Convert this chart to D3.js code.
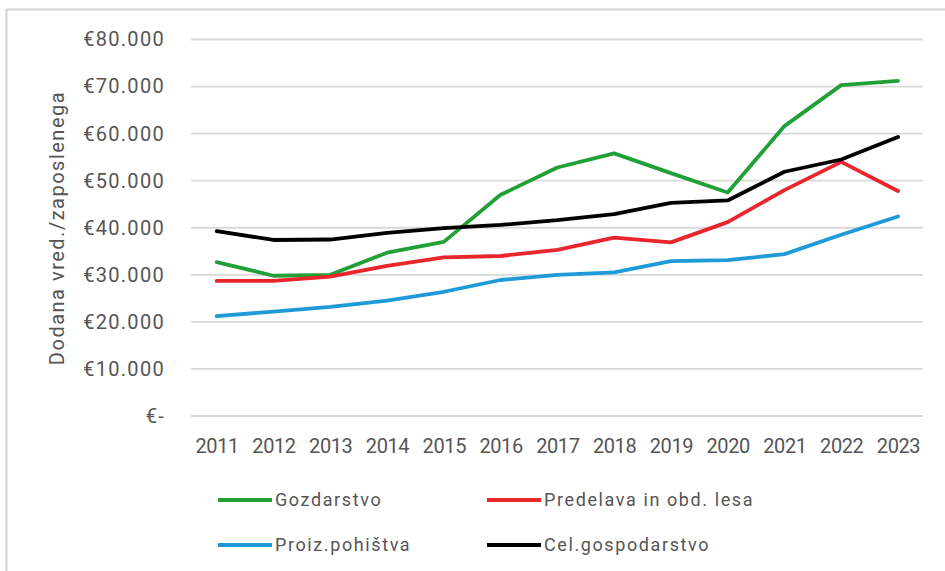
<!DOCTYPE html>
<html>
<head>
<meta charset="utf-8">
<script src="https://cdn.jsdelivr.net/npm/d3@7"></script>
<style>
  html, body { margin: 0; padding: 0; background: #fff; }
  svg { display: block; font-family: Roboto, "Noto Sans", sans-serif; }
</style>
</head>
<body>
<svg id="chart" width="945" height="571"></svg>
<script>
// Dodana vrednost na zaposlenega, 2011–2023 (EUR)
const years = [2011, 2012, 2013, 2014, 2015, 2016, 2017, 2018, 2019, 2020, 2021, 2022, 2023];
const gozdarstvo  = [32700, 29800, 30000, 34700, 37000, 47000, 52800, 55800, 51600, 47500, 61600, 70300, 71200];
const predelava   = [28700, 28700, 29600, 31900, 33700, 34000, 35300, 37900, 36900, 41200, 48000, 54000, 47800];
const pohistvo    = [21200, 22200, 23200, 24500, 26400, 28900, 30000, 30500, 32900, 33100, 34400, 38500, 42400];
const gospodarstvo = [39300, 37400, 37500, 38900, 39900, 40600, 41600, 42900, 45300, 45800, 51900, 54500, 59300];
const yTicks = [0, 10000, 20000, 30000, 40000, 50000, 60000, 70000, 80000];

const series = [
  { name: "Gozdarstvo", values: gozdarstvo, color: "#22a038" },
  { name: "Predelava in obd. lesa", values: predelava, color: "#e8262c" },
  { name: "Proiz.pohištva", values: pohistvo, color: "#1f9ad9" },
  { name: "Cel.gospodarstvo", values: gospodarstvo, color: "#000000" }
];

const svg = d3.select("#chart");
const textColor = "#555555";

// outer chart frame
svg.append("rect")
  .attr("x", 6.5).attr("y", 9.5)
  .attr("width", 960).attr("height", 600)
  .attr("fill", "#fff")
  .attr("stroke", "#d4d4d4").attr("stroke-width", 2);

const plot = { left: 191, right: 923, top: 39.5, bottom: 416 };

const x = d3.scalePoint()
  .domain(years)
  .range([216.7, 898]);

const y = d3.scaleLinear()
  .domain([0, 80000])
  .range([plot.bottom, plot.top]);

// horizontal gridlines
svg.append("g")
  .selectAll("line")
  .data(yTicks)
  .join("line")
  .attr("x1", plot.left).attr("x2", plot.right)
  .attr("y1", d => y(d)).attr("y2", d => y(d))
  .attr("stroke", "#d9d9d9").attr("stroke-width", 1.8);

// y-axis labels
const fmt = v => v === 0 ? "€-" : "€" + d3.format(",")(v).replace(/,/g, ".");
const yAxis = d3.axisLeft(y).tickValues(yTicks).tickFormat(fmt).tickSize(0).tickPadding(0);
const gy = svg.append("g")
  .attr("transform", `translate(${165},0)`)
  .call(yAxis);
gy.select(".domain").remove();
gy.selectAll("text")
  .attr("fill", textColor)
  .attr("font-size", 20)
  .attr("letter-spacing", 1.3)
  .attr("font-family", "Roboto, sans-serif");

// x-axis labels
const xAxis = d3.axisBottom(x).tickSize(0).tickPadding(0);
const gx = svg.append("g")
  .attr("transform", `translate(0,${439})`)
  .call(xAxis);
gx.select(".domain").remove();
gx.selectAll("text")
  .attr("fill", textColor)
  .attr("font-size", 20)
  .attr("letter-spacing", -0.4)
  .attr("font-family", "Roboto, sans-serif");

// y-axis title
svg.append("text")
  .attr("transform", `translate(64,228) rotate(-90)`)
  .attr("text-anchor", "middle")
  .attr("fill", textColor)
  .attr("font-size", 20)
  .attr("letter-spacing", 1.5)
  .text("Dodana vred./zaposlenega");

// series lines
const line = d3.line()
  .x((d, i) => x(years[i]))
  .y(d => y(d));

svg.append("g")
  .selectAll("path")
  .data(series)
  .join("path")
  .attr("d", d => line(d.values))
  .attr("fill", "none")
  .attr("stroke", d => d.color)
  .attr("stroke-width", 3.8)
  .attr("stroke-linejoin", "round")
  .attr("stroke-linecap", "round");

// legend
const legendPos = [
  { x: 218, y: 500 },
  { x: 487, y: 500 },
  { x: 218, y: 545 },
  { x: 487, y: 545 }
];
const lg = svg.append("g")
  .selectAll("g")
  .data(series)
  .join("g")
  .attr("transform", (d, i) => `translate(${legendPos[i].x},${legendPos[i].y})`);
lg.append("line")
  .attr("x1", 0).attr("x2", 54)
  .attr("y1", 0).attr("y2", 0)
  .attr("stroke", d => d.color)
  .attr("stroke-width", 4);
lg.append("text")
  .attr("x", 57).attr("y", 0)
  .attr("dy", "0.35em")
  .attr("fill", textColor)
  .attr("font-size", 18)
  .attr("letter-spacing", 1.6)
  .text(d => d.name);
</script>
</body>
</html>
